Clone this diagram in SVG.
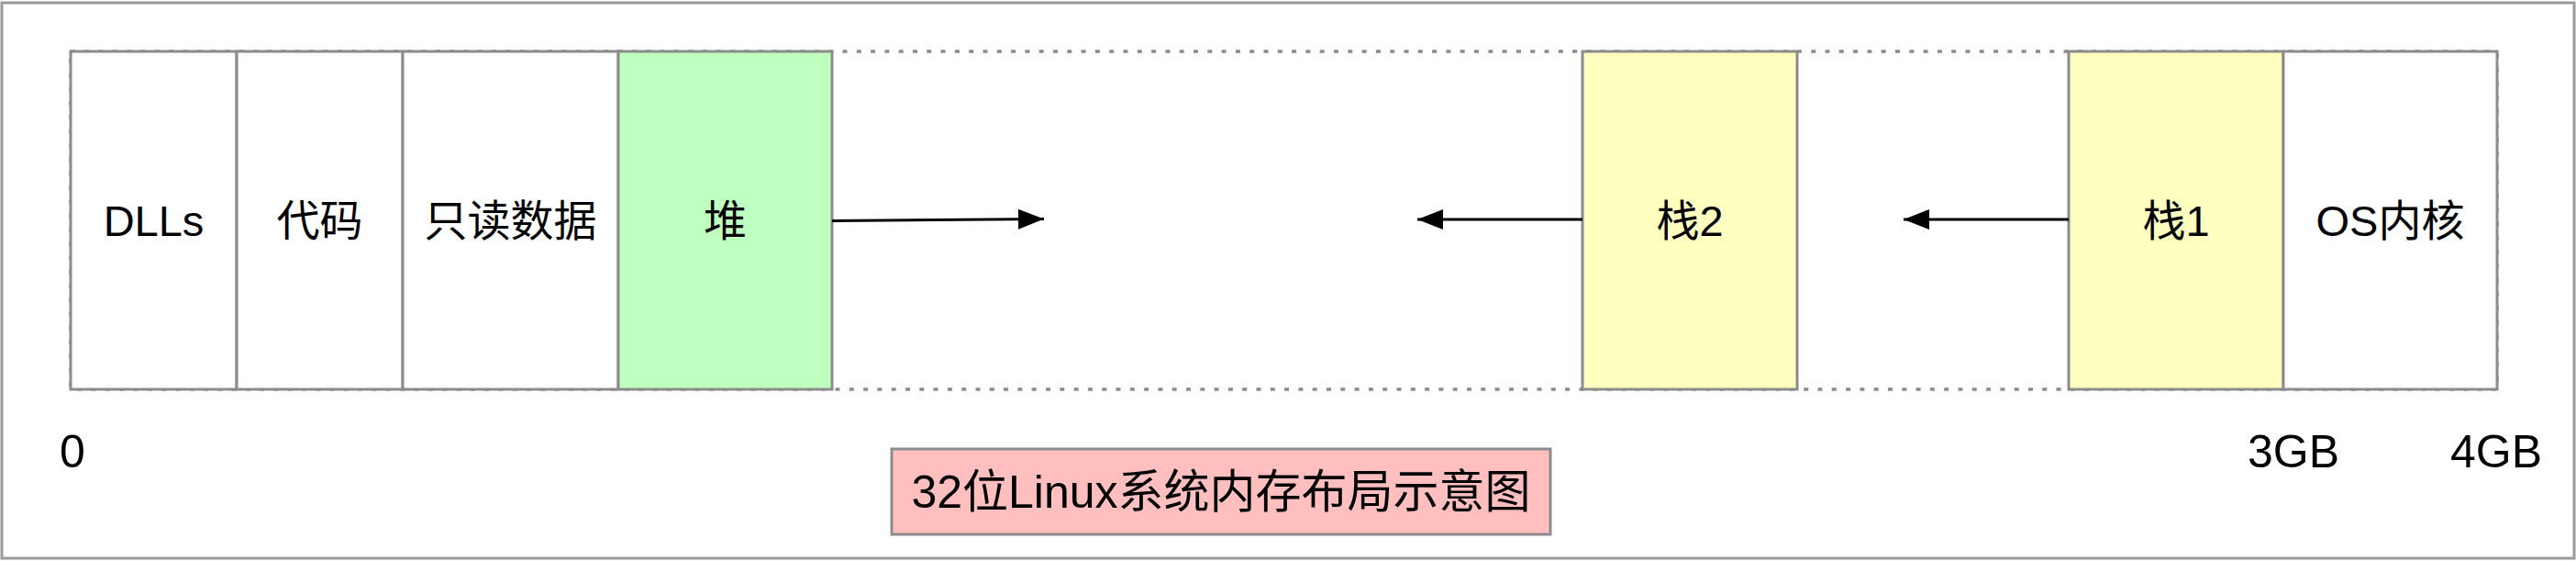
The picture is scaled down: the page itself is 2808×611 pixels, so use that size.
<svg xmlns="http://www.w3.org/2000/svg" width="2808" height="611" viewBox="0 0 2808 611">
<defs>
<style>
.box{stroke:#8c8c8c;stroke-width:3}
.lbl{font-family:"Liberation Sans","Noto Sans CJK SC",sans-serif;font-size:47px;fill:#000;text-anchor:middle;dominant-baseline:central}
.ttl{font-family:"Liberation Sans","Noto Sans CJK SC",sans-serif;font-size:50px;fill:#000;text-anchor:middle;dominant-baseline:central}
.axis{font-family:"Liberation Sans","Noto Sans CJK SC",sans-serif;font-size:50px;fill:#000;text-anchor:middle;dominant-baseline:central}
.dot{fill:none;stroke:#8c8c8c;stroke-width:3.5;stroke-dasharray:5 10.3}
.conn{stroke:#000;stroke-width:3;fill:none}
</style>
<marker id="arr" viewBox="0 0 28 22" refX="28" refY="11" markerWidth="28" markerHeight="22" markerUnits="userSpaceOnUse" orient="auto">
<path d="M0,0 L28,11 L0,22 z" fill="#000"/>
</marker>
</defs>
<rect x="0" y="0" width="2808" height="611" fill="#fff"/>
<rect id="frame" x="2" y="3" width="2804" height="605" fill="none" stroke="#999" stroke-width="3"/>
<rect id="space" class="dot" x="77" y="56" width="2645" height="368"/>
<g id="dlls"><rect class="box" x="77" y="56" width="181" height="368" fill="#fff"/><text class="lbl" x="167.5" y="240">DLLs</text></g>
<g id="code"><rect class="box" x="258" y="56" width="181" height="368" fill="#fff"/><text class="lbl" x="348.5" y="240">代码</text></g>
<g id="rodata"><rect class="box" x="439" y="56" width="235" height="368" fill="#fff"/><text class="lbl" x="556.5" y="240">只读数据</text></g>
<g id="heap"><rect class="box" x="674" y="56" width="233" height="368" fill="#bfffbf"/><text class="lbl" x="790.5" y="240">堆</text></g>
<g id="stack2"><rect class="box" x="1725" y="56" width="234" height="368" fill="#ffffc0"/><text class="lbl" x="1842" y="240">栈2</text></g>
<g id="stack1"><rect class="box" x="2255" y="56" width="234" height="368" fill="#ffffc0"/><text class="lbl" x="2372" y="240">栈1</text></g>
<g id="kernel"><rect class="box" x="2489" y="56" width="233" height="368" fill="#fff"/><text class="lbl" x="2605.5" y="240">OS内核</text></g>
<g id="connectors">
<path class="conn" d="M907,240.5 L1138,238.5" marker-end="url(#arr)"/>
<path class="conn" d="M1725,239 L1545,239" marker-end="url(#arr)"/>
<path class="conn" d="M2255,239 L2075,239" marker-end="url(#arr)"/>
</g>
<g id="axis">
<text class="axis" x="79" y="492">0</text>
<text class="axis" x="2500" y="492">3GB</text>
<text class="axis" x="2721" y="492">4GB</text>
</g>
<g id="title"><rect x="972" y="489" width="718" height="93" fill="#ffbfbf" stroke="#8c8c8c" stroke-width="3"/><text class="ttl" x="1331" y="536">32位Linux系统内存布局示意图</text></g>
</svg>
